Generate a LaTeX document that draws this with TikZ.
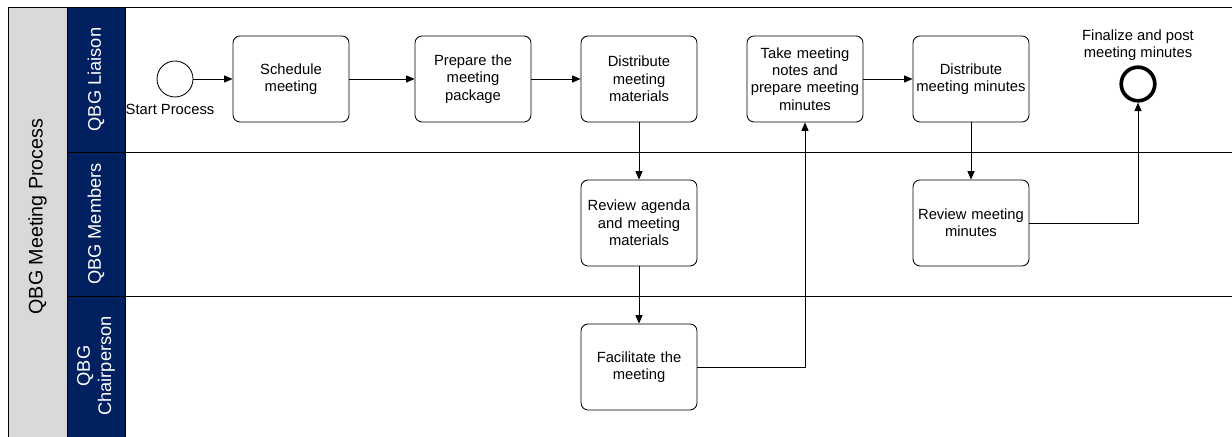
\documentclass[tikz,border=0pt]{standalone}
\usepackage{fontspec}
\setmainfont{Liberation Sans}
\usetikzlibrary{arrows.meta}
\definecolor{poolgray}{HTML}{D9D9D9}
\definecolor{lanenavy}{HTML}{002060}
\begin{document}
\begin{tikzpicture}[every node/.style={font=\fontsize{10.5}{12.3}\selectfont},
  task/.style={draw,rounded corners=5pt,minimum width=2.9cm,minimum height=2.15cm,align=center,text width=2.8cm,inner xsep=0.03cm,line width=0.6pt},
  event/.style={draw,circle,line width=0.6pt,minimum size=0.9cm,inner sep=0pt},
  endevent/.style={draw,circle,line width=2.6pt,minimum size=0.84cm,inner sep=0pt},
  flow/.style={-{Triangle[length=6pt,width=5pt]},line width=0.6pt},
  lanelabel/.style={rotate=90,text=white,align=center,font=\fontsize{13}{15}\selectfont}]
\useasboundingbox (0,0) rectangle (30.8,10.925);
% pool and lanes
\fill[poolgray] (0.2,0) rectangle (1.675,10.75);
\fill[lanenavy] (1.675,0) rectangle (3.125,10.75);
\draw[line width=0.6pt] (0.2,0) -- (0.2,10.75) -- (30.8,10.75);
\draw[line width=0.6pt] (1.675,0) -- (1.675,10.75);
\draw[line width=0.6pt] (3.125,0) -- (3.125,10.75);
\draw[line width=0.6pt] (1.675,7.125) -- (30.8,7.125);
\draw[line width=0.6pt] (1.675,3.525) -- (30.8,3.525);
\node[rotate=90,font=\fontsize{14}{16}\selectfont] (pool) at (0.9375,5.5125) {QBG Meeting Process};
\node[lanelabel] (liaison) at (2.4,8.9375) {QBG Liaison};
\node[lanelabel] (members) at (2.4,5.325) {QBG Members};
\node[lanelabel] (chair) at (2.4,1.775) {QBG\\Chairperson};
% events and tasks
\node[event] (start) at (4.375,8.95) {};
\node (startlbl) at (4.25,8.2) {Start Process};
\node[task] (sched) at (7.275,8.95) {Schedule\\meeting};
\node[task] (prep) at (11.825,8.95) {Prepare the\\meeting\\package};
\node[task] (distmat) at (15.975,8.95) {Distribute\\meeting\\materials};
\node[task] (notes) at (20.125,8.95) {Take meeting\\notes and\\prepare meeting\\minutes};
\node[task] (distmin) at (24.275,8.95) {Distribute\\meeting minutes};
\node[endevent] (finish) at (28.45,8.825) {};
\node[align=center] (finishlbl) at (28.45,9.8) {Finalize and post\\meeting minutes};
\node[task] (revagenda) at (15.975,5.35) {Review agenda\\and meeting\\materials};
\node[task] (revmin) at (24.275,5.35) {Review meeting\\minutes};
\node[task] (facil) at (15.975,1.75) {Facilitate the\\meeting};
% flows
\draw[flow] (start) -- (sched);
\draw[flow] (sched) -- (prep);
\draw[flow] (prep) -- (distmat);
\draw[flow] (distmat) -- (revagenda);
\draw[flow] (revagenda) -- (facil);
\draw[flow] (facil.east) -| (notes.south);
\draw[flow] (notes) -- (distmin);
\draw[flow] (distmin) -- (revmin);
\draw[flow] (revmin.east) -| (finish.south);
\end{tikzpicture}
\end{document}
